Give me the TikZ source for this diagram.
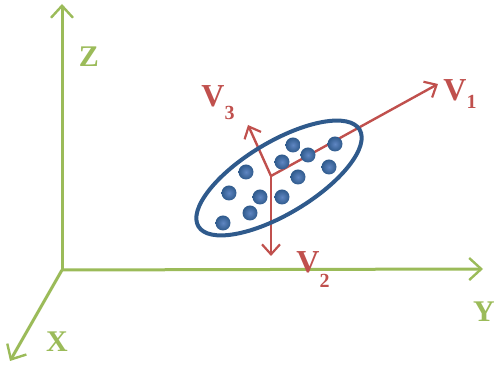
\documentclass[tikz,border=0pt]{standalone}
\usepackage{fontspec}
\setmainfont{Liberation Serif}
\usepackage{xcolor}
\usetikzlibrary{arrows.meta, calc}
\definecolor{GreenA}{HTML}{9BBB59}
\definecolor{RedA}{HTML}{C0504D}
\definecolor{BlueA}{HTML}{2F5A8C}
\definecolor{BlueB}{HTML}{5F86C2}
\newcommand{\vlab}[2]{V\raisebox{-#2}{\fontsize{10}{10}\selectfont #1}}
\tikzset{
  axis/.style={draw=GreenA, line width=1.5pt,
               -{Straight Barb[length=6pt, width=11pt, line width=1.2pt]}},
  vec/.style={draw=RedA, line width=1.2pt,
              -{Straight Barb[length=5pt, width=9pt, line width=1.1pt]}},
  cloud/.style={draw=BlueA, line width=2pt},
  dot/.style={inner color=BlueB, outer color=BlueA},
  albl/.style={font=\fontsize{15}{15}\selectfont\bfseries, text=GreenA, inner sep=0pt},
  vlbl/.style={font=\fontsize{16}{16}\selectfont\bfseries, text=RedA, inner sep=0pt,
               anchor=base west},
}
\begin{document}
\begin{tikzpicture}[x=0.5pt,y=-0.5pt]
  \useasboundingbox (0,0) rectangle (494,368);
  % axes
  \coordinate (O) at (62,270);
  \coordinate (zt) at (62,4);
  \coordinate (yt) at (483,269);
  \coordinate (xt) at (10,361);
  \draw[axis] (O) -- (zt);
  \draw[axis] (O) -- (yt);
  \draw[axis] (O) -- (xt);
  \node[albl] (zlab) at (89,57) {Z};
  \node[albl] (ylab) at (484,312) {Y};
  \node[albl] (xlab) at (57,342) {X};
  % principal directions
  \coordinate (c) at (271,176);
  \coordinate (v1) at (438,84);
  \coordinate (v2) at (271,256);
  \coordinate (v3) at (248,125);
  \draw[vec] (c) -- (v1);
  \draw[vec] (c) -- (v2);
  \draw[vec] (c) -- (v3);
  % data cloud
  \draw[cloud, rotate around={31:(279,178)}] (279,178) ellipse [x radius=94, y radius=36];
  \foreach \px/\py in {293/145, 335/144, 308/155, 282/162, 246/172, 329/167,
                       298/177, 229/193, 260/197, 282/197, 250/213, 223/223}
    \shade[dot] (\px,\py) circle (7.5);
  \node[vlbl] (l1) at (443,101) {\vlab{1}{4pt}};
  \node[vlbl] (l3) at (201,107) {\vlab{3}{6.5pt}};
  \node[vlbl] (l2) at (296,273) {\vlab{2}{7.5pt}};
\end{tikzpicture}
\end{document}
